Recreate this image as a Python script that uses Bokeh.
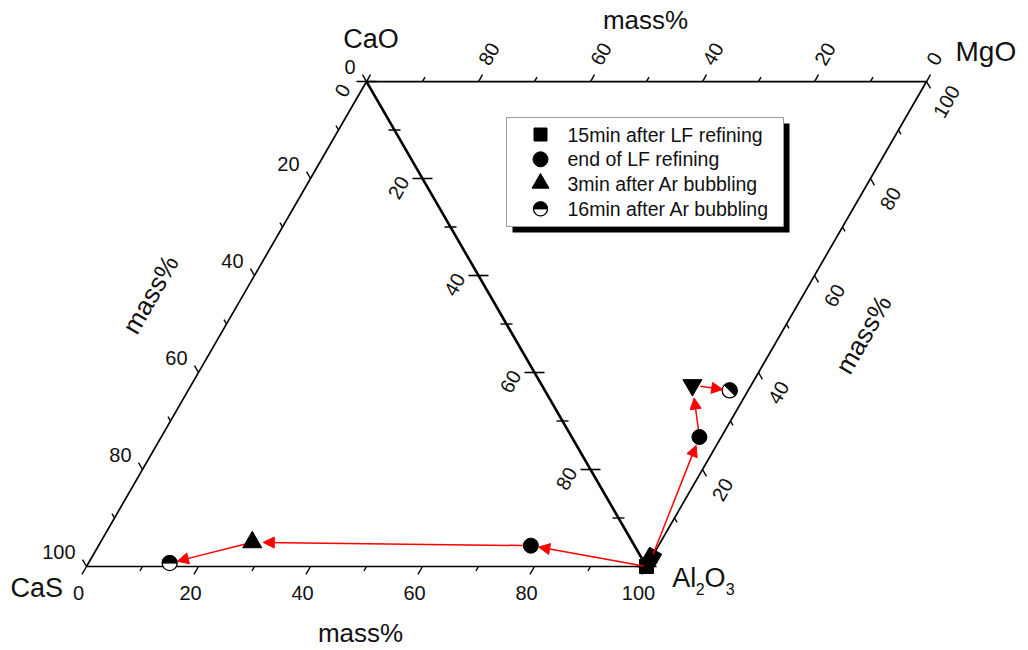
import math
from bokeh.plotting import figure
from bokeh.models import Arrow, NormalHead
from bokeh.core.properties import value
from bokeh.embed import file_html
from bokeh.resources import INLINE

# ---------------- data ----------------
stages = ["15min after LF refining", "end of LF refining",
          "3min after Ar bubbling", "16min after Ar bubbling"]

# left triangle: CaS - Al2O3 - CaO (mass%)
left_CaS = [0.0, 18.5, 67.9, 84.8]
left_Al2O3 = [100.0, 77.2, 27.1, 14.5]
left_CaO = [0.0, 4.3, 5.0, 0.7]

# right triangle: CaO - MgO - Al2O3 (mass%)
right_CaO = [0.0, 3.9, 10.5, 3.3]
right_MgO = [2.0, 22.8, 26.9, 33.0]
right_Al2O3 = [98.0, 73.3, 62.6, 63.7]

major_ticks = [0, 20, 40, 60, 80, 100]
minor_ticks = [10, 30, 50, 70, 90]
bottom_labels = ["0", "20", "40", "60", "80", "100"]
left_labels = ["0", "20", "40", "60", "80", "100"]
top_vals = [0, 20, 40, 60, 80]
top_labels = ["0", "20", "40", "60", "80"]
right_vals = [20, 40, 60, 80, 100]
right_labels = ["20", "40", "60", "80", "100"]
inner_vals = [0, 20, 40, 60, 80]
inner_labels = ["0", "20", "40", "60", "80"]
axis_title = "mass%"

# ---------------- layout ----------------
W, H = 1028, 650
PX = 5.6            # pixels per mass% unit
OX, OY = 86, 566    # pixel position of the CaS corner
S3 = math.sqrt(3) / 2
FONT = value("Liberation Sans")
TXT = "#111111"

CaS = (0.0, 0.0)
Al = (100.0, 0.0)
CaO = (50.0, 100 * S3)
MgO = (150.0, 100 * S3)


def at_px(xp, yp):
    return (xp - OX) / PX, (OY - yp) / PX


def lerp(A, B, t):
    return (A[0] + (B[0] - A[0]) * t, A[1] + (B[1] - A[1]) * t)


def tern_left(cas, al, cao):
    s = cas + al + cao
    al, cao = al * 100 / s, cao * 100 / s
    return al + cao / 2, cao * S3


def tern_right(cao, mgo, al):
    s = cao + mgo + al
    cao, mgo = cao * 100 / s, mgo * 100 / s
    return 100 - cao / 2 + mgo / 2, (cao + mgo) * S3


p = figure(width=W, height=H,
           x_range=(-OX / PX, (W - OX) / PX),
           y_range=((OY - H) / PX, OY / PX),
           output_backend="svg", toolbar_location=None, min_border=0,
           x_axis_location=None, y_axis_location=None,
           outline_line_color=None, background_fill_color="white",
           border_fill_color="white")
p.grid.grid_line_color = None

# ---------------- triangle edges ----------------
p.line([CaO[0], CaS[0], Al[0], MgO[0], CaO[0]],
       [CaO[1], CaS[1], Al[1], MgO[1], CaO[1]],
       line_color="black", line_width=1.7)
p.line([CaO[0], Al[0]], [CaO[1], Al[1]], line_color="black", line_width=2.6)


def draw_ticks(A, B, vals, direction, length_px, both=False, width=1.4):
    x0s, y0s, x1s, y1s = [], [], [], []
    dx = direction[0] * length_px / PX
    dy = direction[1] * length_px / PX
    for v in vals:
        P = lerp(A, B, v / 100)
        if both:
            x0s.append(P[0] - dx); y0s.append(P[1] - dy)
        else:
            x0s.append(P[0]); y0s.append(P[1])
        x1s.append(P[0] + dx); y1s.append(P[1] + dy)
    p.segment(x0s, y0s, x1s, y1s, line_color="black", line_width=width)


def draw_labels(A, B, vals, labels, off, align, baseline, angle, size="20px"):
    xs, ys = [], []
    for v in vals:
        P = lerp(A, B, v / 100)
        xs.append(P[0] + off[0] / PX)
        ys.append(P[1] - off[1] / PX)
    p.text(xs, ys, text=labels, text_font=FONT, text_font_size=size,
           text_align=align, text_baseline=baseline, angle=angle,
           text_color=TXT)


A60 = math.pi / 3
# bottom axis (Al2O3 in left triangle)
draw_ticks(CaS, Al, major_ticks, (-0.5, -S3), 9)
draw_ticks(CaS, Al, minor_ticks, (-0.5, -S3), 5)
draw_labels(CaS, Al, major_ticks, bottom_labels, (-8, 26), "center", "middle", 0)
# left axis (CaS)
draw_ticks(CaO, CaS, major_ticks, (-0.5, S3), 8)
draw_ticks(CaO, CaS, minor_ticks, (-0.5, S3), 5)
draw_labels(CaO, CaS, major_ticks, left_labels, (-11, -15), "right", "middle", 0)
# top axis (CaO in right triangle)
draw_ticks(MgO, CaO, major_ticks, (0.5, S3), 8)
draw_ticks(MgO, CaO, minor_ticks, (0.5, S3), 5)
draw_labels(MgO, CaO, top_vals, top_labels, (5, -18), "left", "middle", A60)
# right axis (MgO)
draw_ticks(Al, MgO, major_ticks, (0.5, -S3), 8)
draw_ticks(Al, MgO, minor_ticks, (0.5, -S3), 5)
draw_labels(Al, MgO, right_vals, right_labels, (20, 20), "center", "middle", A60)
# inner shared axis (Al2O3 in right triangle)
draw_ticks(CaO, Al, major_ticks, (1, 0), 10, both=True, width=1.6)
draw_ticks(CaO, Al, minor_ticks, (1, 0), 6, both=True, width=1.4)
draw_labels(CaO, Al, inner_vals, inner_labels, (-24, 9), "center", "middle", A60)


# ---------------- vertex and axis titles ----------------
def ptext(xp, yp, txt, align="left", size="27px", angle=0):
    x, y = at_px(xp, yp)
    p.text([x], [y], text=[txt], text_font=FONT, text_font_size=size,
           text_align=align, text_baseline="middle", angle=angle,
           text_color=TXT)


ptext(370.5, 38, "CaO", align="center")
ptext(955, 51, "MgO", size="28px")
ptext(10, 587, "CaS")
# Al2O3 with subscripts
ptext(671.7, 577, "Al")
ptext(695.2, 588, "2", size="16px")
ptext(704.0, 577, "O")
ptext(725.2, 588, "3", size="16px")

ptext(645, 19, axis_title, align="center", size="26px")
ptext(360, 632, axis_title, align="center", size="26px")
ptext(150, 294, axis_title, align="center", size="26px", angle=A60)
ptext(863, 334, axis_title, align="center", size="26px", angle=A60)

# ---------------- legend ----------------
sl, st = at_px(512, 123)
sr, sb = at_px(789, 232)
p.quad(left=sl, right=sr, top=st, bottom=sb, fill_color="black", line_color=None)
bl, bt = at_px(506, 117)
br, bb = at_px(783, 226)
p.quad(left=bl, right=br, top=bt, bottom=bb, fill_color="white",
       line_color="#9a9a9a", line_width=1)

leg_rows = [134 + 24.8 * i for i in range(len(stages))]
leg_mx = [at_px(540, r)[0] for r in leg_rows]
leg_my = [at_px(540, r)[1] for r in leg_rows]
leg_tx = [at_px(567, r)[0] for r in leg_rows]
p.scatter([leg_mx[0]], [leg_my[0]], marker="square", size=13, fill_color="black", line_color="black")
p.scatter([leg_mx[1]], [leg_my[1]], marker="circle", size=15, fill_color="black", line_color="black")
p.scatter([leg_mx[2]], [leg_my[2] + 0.15], marker="triangle", size=17, fill_color="black", line_color="black")
p.scatter([leg_mx[3]], [leg_my[3]], marker="circle", size=14, fill_color="white", line_color="black", line_width=1.3)
p.wedge([leg_mx[3]], [leg_my[3]], radius=7, radius_units="screen",
        start_angle=0, end_angle=math.pi, fill_color="black", line_color="black")
p.text(leg_tx, leg_my, text=stages, text_font=FONT, text_font_size="19.5px",
       text_align="left", text_baseline="middle", text_color=TXT)

# ---------------- data points ----------------
lpts = [tern_left(a, b, c) for a, b, c in zip(left_CaS, left_Al2O3, left_CaO)]
rpts = [tern_right(a, b, c) for a, b, c in zip(right_CaO, right_MgO, right_Al2O3)]

start_gap = [3, 8, 8, 8]
end_gap_l = [0, 8, 11, 8]
end_gap_r = [0, 9, 13, 7]


def arrows(pts, end_gap):
    for i in range(len(pts) - 1):
        (x0, y0), (x1, y1) = pts[i], pts[i + 1]
        L = math.hypot(x1 - x0, y1 - y0)
        ux, uy = (x1 - x0) / L, (y1 - y0) / L
        sg, eg = start_gap[i] / PX, end_gap[i + 1] / PX
        p.add_layout(Arrow(end=NormalHead(size=11, fill_color="red", line_color="red", line_width=1),
                           x_start=x0 + ux * sg, y_start=y0 + uy * sg,
                           x_end=x1 - ux * eg, y_end=y1 - uy * eg,
                           line_color="red", line_width=1.5))


arrows(lpts, end_gap_l)
arrows(rpts, end_gap_r)

# left triangle markers
p.scatter([lpts[0][0]], [lpts[0][1]], marker="square", size=14, fill_color="black", line_color="black")
p.scatter([lpts[1][0]], [lpts[1][1]], marker="circle", size=15, fill_color="black", line_color="black")
p.scatter([lpts[2][0]], [lpts[2][1]], marker="triangle", size=19, fill_color="black", line_color="black")
p.scatter([lpts[3][0]], [lpts[3][1]], marker="circle", size=15, fill_color="white", line_color="black", line_width=1.3)
p.wedge([lpts[3][0]], [lpts[3][1]], radius=7.5, radius_units="screen",
        start_angle=0, end_angle=math.pi, fill_color="black", line_color="black")

# right triangle markers
p.scatter([rpts[0][0]], [rpts[0][1]], marker="square", size=14, angle=-math.pi / 6,
          fill_color="black", line_color="black")
p.scatter([rpts[1][0]], [rpts[1][1]], marker="circle", size=15, fill_color="black", line_color="black")
p.scatter([rpts[2][0]], [rpts[2][1]], marker="inverted_triangle", size=19, fill_color="black", line_color="black")
p.scatter([rpts[3][0]], [rpts[3][1]], marker="circle", size=15, fill_color="white", line_color="black", line_width=1.3)
p.wedge([rpts[3][0]], [rpts[3][1]], radius=7.5, radius_units="screen",
        start_angle=-math.pi / 4, end_angle=3 * math.pi / 4, fill_color="black", line_color="black")

open("out.html", "w").write(file_html(p, INLINE))
